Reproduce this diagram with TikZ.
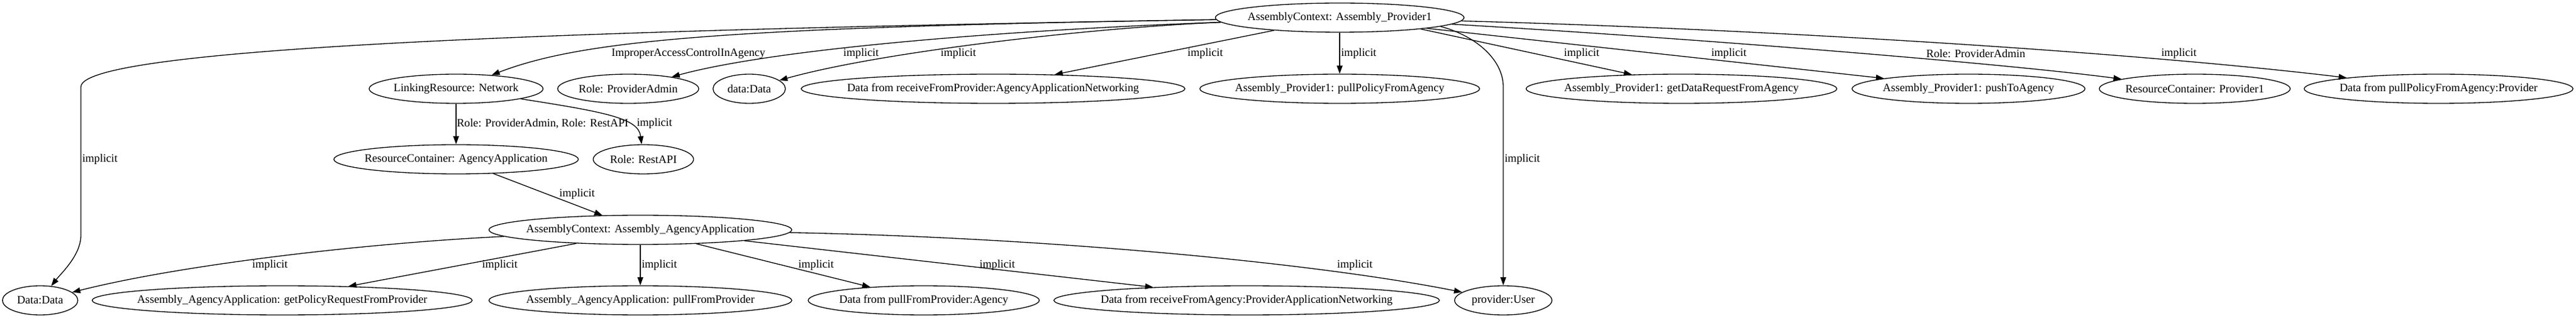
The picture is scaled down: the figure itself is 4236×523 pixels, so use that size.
\documentclass[tikz,border=0pt]{standalone}
\usepackage{fontspec}
\setmainfont{Liberation Serif}
\usetikzlibrary{shapes.geometric,arrows.meta}
\tikzset{
  gnode/.style={draw, ellipse, inner sep=0pt, minimum height=36pt, line width=1pt, font=\fontsize{14pt}{16pt}\selectfont},
  lbl/.style={inner sep=0pt, font=\fontsize{14pt}{16pt}\selectfont},
  edge/.style={line width=1pt, -{Triangle[length=10pt,width=7pt]}},
}
\newcommand{\gn}[5]{\node[gnode, minimum width=#4*0.75pt] (#1) at (#2,#3) {\makebox[0pt]{#5}};}
\begin{document}
\begin{tikzpicture}[x=0.75pt,y=-0.75pt]
\useasboundingbox (0,0) rectangle (4236,523);
% nodes
\gn{A}{2203}{29}{409}{AssemblyContext: Assembly\_Provider1}
\gn{L}{750}{146}{286}{LinkingResource: Network}
\gn{RPA}{1033}{146}{232}{Role: ProviderAdmin}
\gn{dD}{1232}{146}{119}{data:Data}
\gn{RFP}{1633}{146}{631}{Data from receiveFromProvider:AgencyApplicationNetworking}
\gn{PPA}{2203}{146}{460}{Assembly\_Provider1: pullPolicyFromAgency}
\gn{GDR}{2765}{146}{511}{Assembly\_Provider1: getDataRequestFromAgency}
\gn{PTA}{3237}{146}{383}{Assembly\_Provider1: pushToAgency}
\gn{RCP}{3609}{146}{314}{ResourceContainer: Provider1}
\gn{DPP}{4010}{146}{442}{Data from pullPolicyFromAgency:Provider}
\gn{RCA}{750}{262}{402}{ResourceContainer: AgencyApplication}
\gn{RR}{1058}{262}{165}{Role: RestAPI}
\gn{AAA}{1053}{378}{498}{AssemblyContext: Assembly\_AgencyApplication}
\gn{DD}{66}{494}{124}{Data:Data}
\gn{GPR}{464}{494}{625}{Assembly\_AgencyApplication: getPolicyRequestFromProvider}
\gn{PFP}{1053}{494}{498}{Assembly\_AgencyApplication: pullFromProvider}
\gn{DPA}{1519}{494}{380}{Data from pullFromProvider:Agency}
\gn{RFA}{2050}{494}{634}{Data from receiveFromAgency:ProviderApplicationNetworking}
\gn{PU}{2472}{494}{160}{provider:User}
% edges from top node
\draw[edge] (A) .. controls (900,50) and (133,80) .. (133,143) -- (133,387) .. controls (133,420) and (100,450) .. (DD);
\draw[edge] (A) .. controls (1200,45) and (960,65) .. (L);
\draw[edge] (A) .. controls (1600,52) and (1260,84) .. (RPA);
\draw[edge] (A) .. controls (1800,45) and (1450,85) .. (dD);
\draw[edge] (A.191) -- (RFP.13);
\draw[edge] (A) -- (PPA);
\draw[edge] (A.-8) -- (GDR.164);
\draw[edge] (A.-7) -- (PTA.173);
\draw[edge] (A) .. controls (2800,64) and (3300,105) .. (RCP);
\draw[edge] (A) .. controls (2900,48) and (3500,85) .. (DPP);
\draw[edge] (A.-5) .. controls (2430,60) and (2472,100) .. (2472,143) -- (PU);
% middle edges
\draw[edge] (L) -- (RCA);
\draw[edge] (L) .. controls (1000,185) and (1050,195) .. (RR);
\draw[edge] (RCA) -- (AAA);
% bottom edges
\draw[edge] (AAA) .. controls (600,400) and (300,435) .. (DD);
\draw[edge] (AAA.192) -- (GPR.12);
\draw[edge] (AAA) -- (PFP);
\draw[edge] (AAA.-14) -- (DPA.166);
\draw[edge] (AAA.-6) -- (RFA.172);
\draw[edge] (AAA) .. controls (1700,390) and (2150,430) .. (PU);
% labels
\node[lbl] (l1) at (1132,88) {ImproperAccessControlInAgency};
\node[lbl] (l2) at (1416,88) {implicit};
\node[lbl] (l3) at (1576,88) {implicit};
\node[lbl] (l4) at (1982,88) {implicit};
\node[lbl, anchor=west] (l5) at (2205,88) {implicit};
\node[lbl] (l6) at (2601,88) {implicit};
\node[lbl] (l7) at (2843,88) {implicit};
\node[lbl] (l8) at (3249,88) {Role: ProviderAdmin};
\node[lbl] (l9) at (3583,88) {implicit};
\node[lbl, anchor=west] (l10) at (2474,262) {implicit};
\node[lbl, anchor=west] (l11) at (135,262) {implicit};
\node[lbl, anchor=west] (l12) at (751,203) {Role: ProviderAdmin, Role: RestAPI};
\node[lbl, anchor=west] (l13) at (1047,203) {implicit};
\node[lbl] (l14) at (949,319) {implicit};
\node[lbl] (l15) at (444,436) {implicit};
\node[lbl] (l16) at (822,436) {implicit};
\node[lbl, anchor=west] (l17) at (1055,436) {implicit};
\node[lbl] (l18) at (1342,436) {implicit};
\node[lbl] (l19) at (1640,436) {implicit};
\node[lbl] (l20) at (2228,436) {implicit};
\end{tikzpicture}
\end{document}
